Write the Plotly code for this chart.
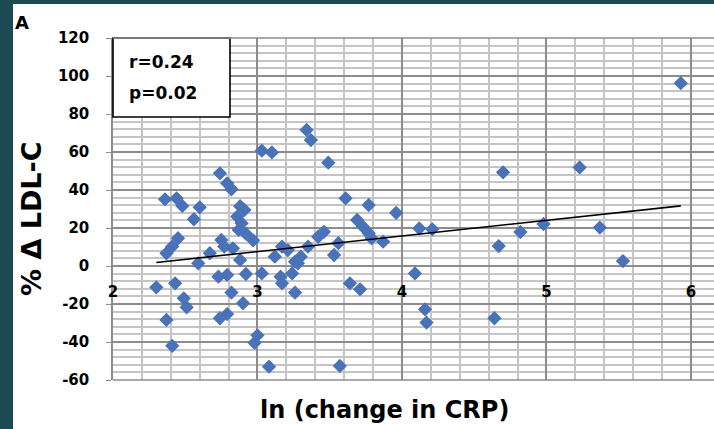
import numpy as np
import plotly.graph_objects as go

# ln(change in CRP) and % change in LDL-C per patient
ln_crp = [
    2.30, 2.37, 2.41, 2.36, 2.44, 2.48, 2.43, 2.49, 2.51, 2.37,
    2.41, 2.45, 2.56, 2.60, 2.59, 2.67,
    2.74, 2.79, 2.82, 2.88, 2.91, 2.86, 2.89, 2.87, 2.92, 2.97,
    2.75, 2.77, 2.83, 2.88, 2.73, 2.79, 2.92, 3.03, 2.82, 2.90,
    2.74, 2.79, 2.98, 3.00, 3.08, 3.03, 3.10,
    3.12, 3.17, 3.21, 3.26, 3.30, 3.35, 3.42, 3.46, 3.28, 3.53,
    3.56, 3.16, 3.24, 3.17, 3.26, 3.34, 3.37, 3.49, 3.57, 3.61,
    3.64, 3.71, 3.69, 3.73, 3.77, 3.79, 3.87, 3.77, 3.96, 4.09,
    4.12, 4.21, 4.16, 4.17,
    4.64, 4.67, 4.70, 4.82, 4.98, 5.23, 5.37, 5.53, 5.93,
]
pct_ldl = [
    -11.2, -28.4, -42.0, 35.1, 35.6, 31.6, -9.1, -17.0, -21.7, 6.7,
    10.2, 14.6, 24.6, 30.9, 1.4, 6.7,
    48.8, 43.5, 40.4, 31.5, 29.5, 26.0, 22.5, 19.0, 17.0, 13.5,
    13.7, 10.2, 9.3, 3.2, -5.6, -4.7, -4.2, -3.9, -14.0, -19.6,
    -27.5, -25.3, -40.4, -36.5, -53.0, 60.7, 59.8,
    4.9, 10.2, 8.4, 2.3, 4.9, 10.2, 15.4, 18.0, 1.4, 5.8,
    12.0, -5.6, -3.9, -9.1, -14.0, 71.6, 66.3, 54.4, -52.6, 35.6,
    -9.1, -12.3, 24.2, 20.7, 17.2, 14.6, 12.8, 32.1, 28.0, -3.9,
    19.8, 19.3, -22.8, -29.8,
    -27.5, 10.5, 49.3, 17.9, 22.1, 51.9, 20.2, 2.6, 96.2,
]

x_ticks = [2, 3, 4, 5, 6]
x_tick_text = ["2", "3", "4", "5", "6"]
y_ticks = [-60, -40, -20, 0, 20, 40, 60, 80, 100, 120]
y_tick_text = ["-60", "-40", "-20", "0", "20", "40", "60", "80", "100", "120"]
stats_text = ["r=0.24", "p=0.02"]

# least-squares trend line across the observed x range
slope, intercept = np.polyfit(ln_crp, pct_ldl, 1)
trend_x = [min(ln_crp), max(ln_crp)]
trend_y = [slope * v + intercept for v in trend_x]

W, H = 714, 429
L, R, T, B = 113, 0, 38, 49
pw, ph = W - L - R, H - T - B


def px_x(p):
    return (p - L) / pw


def px_y(p):
    return (H - B - p) / ph


BOLD = dict(family="'DejaVu Sans', sans-serif", color="black", weight="bold")
TEAL = "#1c4a53"

fig = go.Figure()
fig.add_trace(go.Scatter(
    x=ln_crp, y=pct_ldl, mode="markers",
    marker=dict(symbol="diamond", size=11, color="#4a72b8", line=dict(width=0)),
    showlegend=False, hoverinfo="skip",
))
fig.add_trace(go.Scatter(
    x=trend_x, y=trend_y, mode="lines",
    line=dict(color="black", width=1.6),
    showlegend=False, hoverinfo="skip",
))

shapes = [
    # white page over the teal frame
    dict(type="rect", xref="paper", yref="paper", layer="below",
         x0=px_x(13), x1=px_x(W + 5), y0=px_y(H + 5), y1=px_y(4),
         fillcolor="white", line=dict(width=0)),
    # statistics box
    dict(type="rect", xref="paper", yref="paper", layer="above",
         x0=px_x(113), x1=px_x(230), y0=px_y(117), y1=px_y(38),
         fillcolor="white", line=dict(color="black", width=1.6)),
    # frame lines at top and bottom of the plot
    dict(type="line", xref="paper", yref="paper", x0=0, x1=1, y0=0, y1=0,
         line=dict(color="#8c8c8c", width=1.5)),
    dict(type="line", xref="paper", yref="paper", x0=0, x1=1, y0=1, y1=1,
         line=dict(color="#8c8c8c", width=1.5)),
]

annotations = [
    dict(text="A", xref="paper", yref="paper", x=px_x(13), y=px_y(10),
         xanchor="left", yanchor="top", showarrow=False,
         font=dict(BOLD, size=18)),
    dict(text=stats_text[0], xref="paper", yref="paper", x=px_x(127), y=px_y(62),
         xanchor="left", yanchor="middle", showarrow=False,
         font=dict(BOLD, size=17)),
    dict(text=stats_text[1], xref="paper", yref="paper", x=px_x(127), y=px_y(93),
         xanchor="left", yanchor="middle", showarrow=False,
         font=dict(BOLD, size=17)),
    dict(text="% Δ LDL-C", xref="paper", yref="paper", x=px_x(32), y=px_y(219),
         xanchor="center", yanchor="middle", textangle=-90, showarrow=False,
         font=dict(BOLD, size=27)),
    dict(text="ln (change in CRP)", xref="paper", yref="paper", x=px_x(384), y=px_y(410),
         xanchor="center", yanchor="middle", showarrow=False,
         font=dict(BOLD, size=24)),
]

fig.update_layout(
    width=W, height=H,
    margin=dict(l=L, r=R, t=T, b=B, pad=0),
    paper_bgcolor=TEAL, plot_bgcolor="white",
    shapes=shapes, annotations=annotations,
    xaxis=dict(
        range=[2, 6.16], tickvals=x_ticks, ticktext=x_tick_text,
        anchor="free", position=(0 - (-60)) / 180,
        showline=False, zeroline=False, ticks="",
        showgrid=True, gridcolor="#8c8c8c", gridwidth=1.5,
        minor=dict(dtick=0.2, tick0=2, showgrid=True, gridcolor="#c4c4c4", gridwidth=1.5),
        tickfont=dict(BOLD, size=15), ticklabelstandoff=15,
    ),
    yaxis=dict(
        range=[-60, 120], tickvals=y_ticks, ticktext=y_tick_text,
        showline=True, linecolor="#8c8c8c", linewidth=1.5,
        ticks="outside", ticklen=5, tickcolor="#8c8c8c", tickwidth=1.2,
        zeroline=False,
        showgrid=True, gridcolor="#8c8c8c", gridwidth=1.5,
        minor=dict(dtick=4, tick0=0, showgrid=True, gridcolor="#c4c4c4", gridwidth=1.5),
        tickfont=dict(BOLD, size=15), ticklabelstandoff=14,
    ),
)

fig.write_html("out.html")
